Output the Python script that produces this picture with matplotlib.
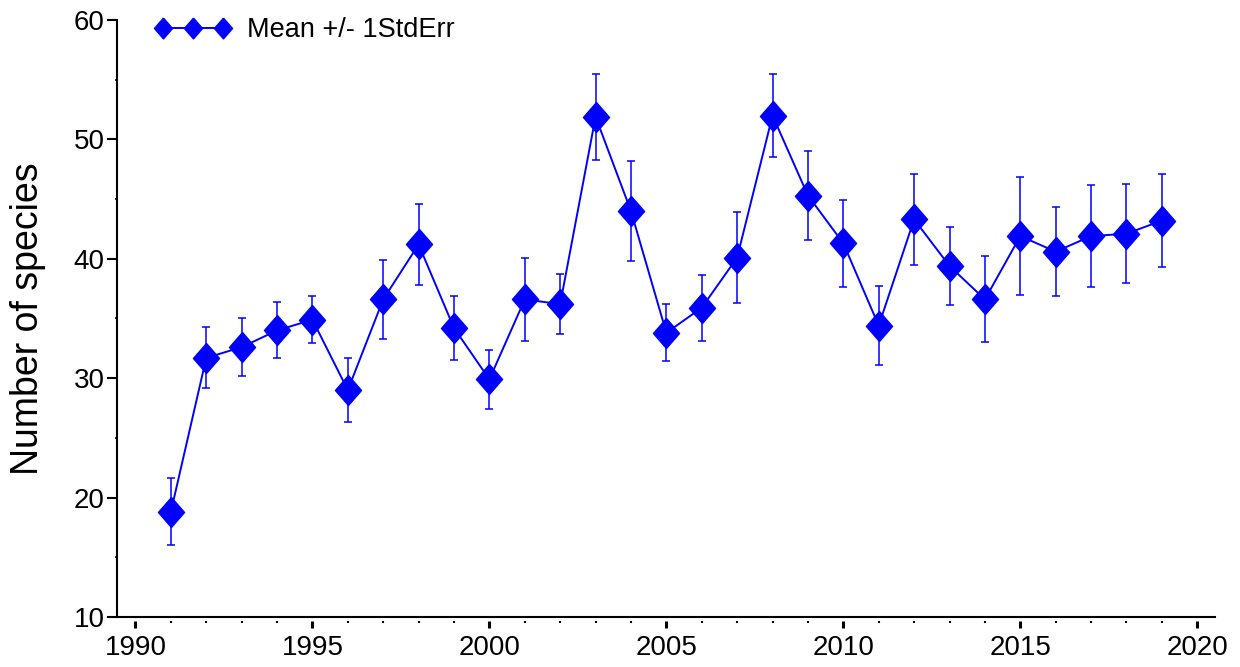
import numpy as np
import matplotlib
matplotlib.use("Agg")
import matplotlib.pyplot as plt
from matplotlib.lines import Line2D

plt.rcParams['font.family'] = ['Liberation Sans', 'DejaVu Sans']

# survey years and mean species count (+/- 1 standard error)
years = [1991, 1992, 1993, 1994, 1995, 1996, 1997, 1998, 1999, 2000,
         2001, 2002, 2003, 2004, 2005, 2006, 2007, 2008, 2009, 2010,
         2011, 2012, 2013, 2014, 2015, 2016, 2017, 2018, 2019]
means = [18.8, 31.7, 32.6, 34.0, 34.9, 29.0, 36.6, 41.2, 34.2, 29.9,
         36.6, 36.2, 51.9, 44.0, 33.8, 35.9, 40.1, 52.0, 45.3, 41.3,
         34.4, 43.3, 39.4, 36.6, 41.9, 40.6, 41.9, 42.1, 43.2]
stderr = [2.8, 2.55, 2.4, 2.35, 1.95, 2.7, 3.3, 3.4, 2.7, 2.5,
          3.5, 2.5, 3.6, 4.15, 2.4, 2.75, 3.8, 3.45, 3.7, 3.65,
          3.3, 3.8, 3.3, 3.6, 4.95, 3.7, 4.3, 4.15, 3.9]

xticks = [1990, 1995, 2000, 2005, 2010, 2015, 2020]
yticks = [10, 20, 30, 40, 50, 60]

blue = '#0000ff'
diamond = [(0, 1), (0.87, 0), (0, -1), (-0.87, 0), (0, 1)]

fig = plt.figure(figsize=(12.4, 6.67), dpi=100)
ax = fig.add_axes([0.0944, 0.075, 0.8854, 0.895])

ax.errorbar(years, means, yerr=stderr, color=blue, ecolor=blue,
            linewidth=1.4, elinewidth=1.1, capsize=2.9, capthick=1.1,
            marker=diamond, markersize=21.6, markerfacecolor=blue,
            markeredgecolor=blue)

ax.set_xlim(1989.48, 2020.5)
ax.set_ylim(10, 60)
ax.set_xticks(xticks)
ax.set_yticks(yticks)
ax.set_xticks(np.arange(1991, 2020), minor=True)
ax.set_yticks(np.arange(15, 60, 10), minor=True)

for s in ['top', 'right']:
    ax.spines[s].set_visible(False)
ax.spines['left'].set_linewidth(1.5)
# x ticks sit a little below the axis line, so shift the spine and redraw the line
ax.spines['bottom'].set_position(('outward', 3))
ax.spines['bottom'].set_visible(False)
ax.axhline(10, color='black', linewidth=1.5, clip_on=False, zorder=0.5)

ax.tick_params(axis='y', which='major', direction='out', length=7, width=1.5,
               labelsize=20, pad=2)
ax.tick_params(axis='y', which='minor', direction='out', length=1.5, width=1.2)
ax.tick_params(axis='x', which='major', direction='out', length=5, width=2.2,
               labelsize=20, pad=5)
ax.tick_params(axis='x', which='minor', direction='out', length=1.5, width=1.5)

ax.set_ylabel('Number of species', fontsize=27, labelpad=20)

proxy = Line2D([], [], color=blue, linewidth=1.4, marker=diamond,
               markersize=15, markerfacecolor=blue, markeredgecolor=blue)
ax.legend([proxy], ['Mean +/- 1StdErr'], loc='upper left',
          bbox_to_anchor=(0.0346, 1.005), frameon=False, numpoints=3,
          handlelength=2.8, handletextpad=0.6, borderpad=0,
          borderaxespad=0, fontsize=19.5)

fig.savefig('out.png', dpi=100)
